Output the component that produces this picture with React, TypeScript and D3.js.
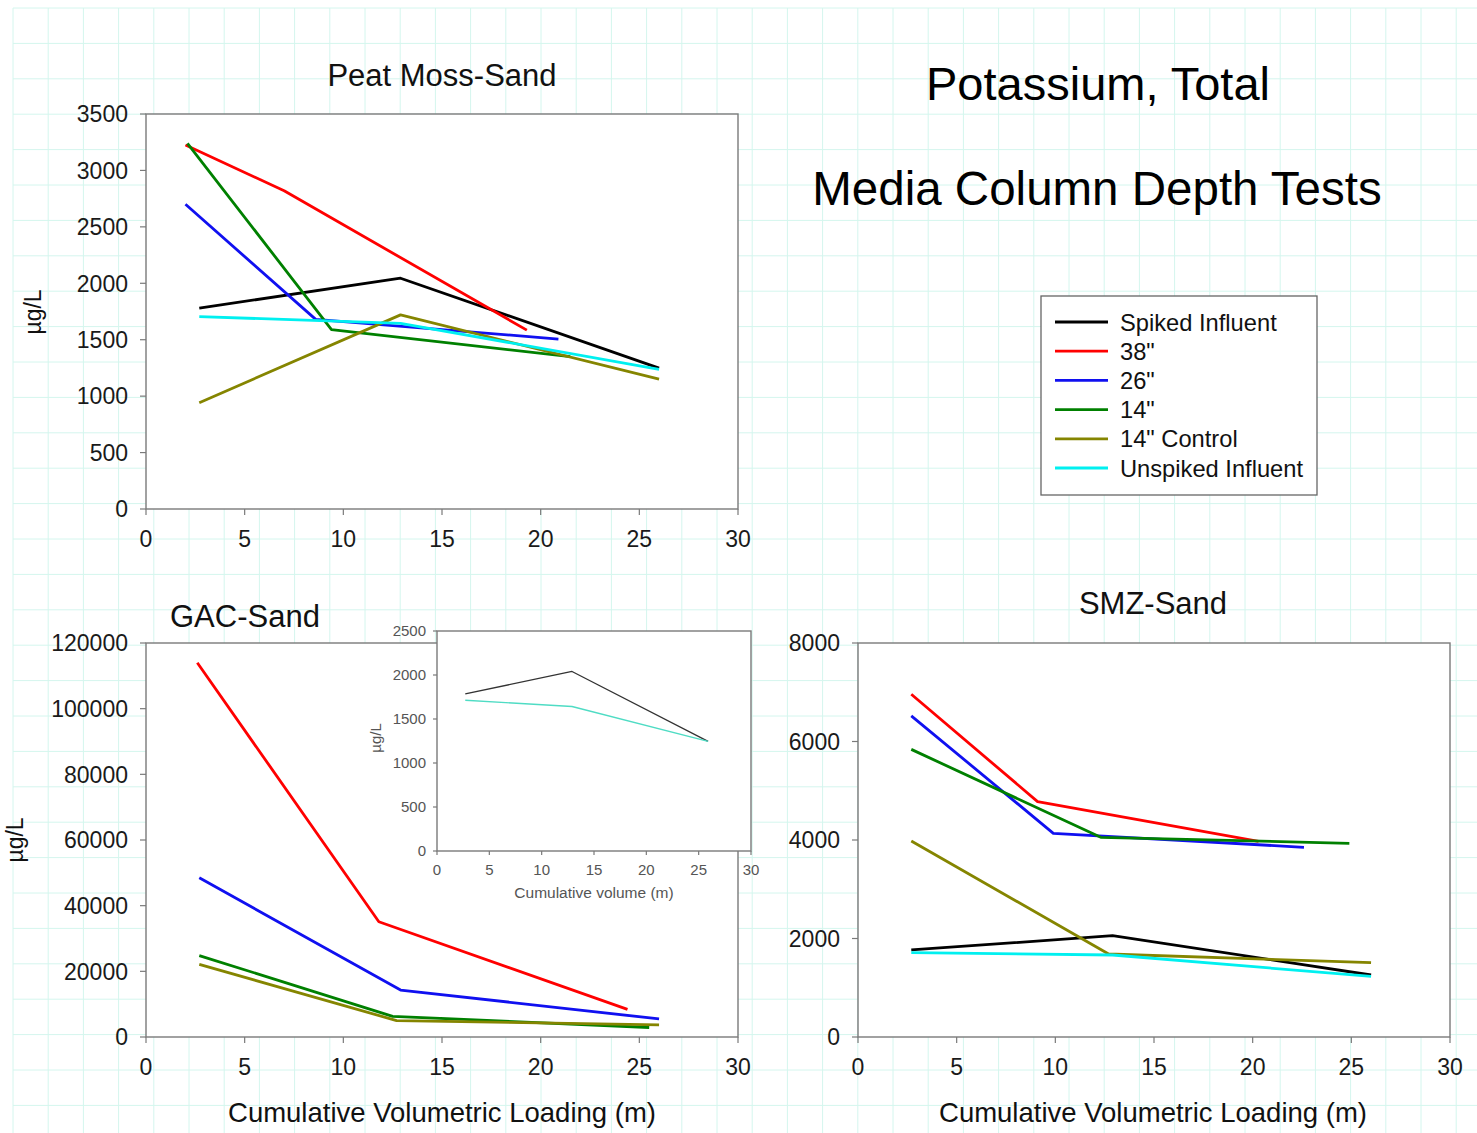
import React from 'react';
import * as d3 from 'd3';

type Pt = [number, number];

const W = 1477;
const H = 1133;
const FONT = '"Liberation Sans", Arial, sans-serif';

// legend / series
const seriesNames = ['Spiked Influent', '38"', '26"', '14"', '14" Control', 'Unspiked Influent'];
const seriesColors = ['#000000', '#ff0000', '#1010f0', '#008000', '#858500', '#00f0f0'];

// shared ticks
const xTicks = [0, 5, 10, 15, 20, 25, 30];
const peatYTicks = [0, 500, 1000, 1500, 2000, 2500, 3000, 3500];
const gacYTicks = [0, 20000, 40000, 60000, 80000, 100000, 120000];
const smzYTicks = [0, 2000, 4000, 6000, 8000];
const insetYTicks = [0, 500, 1000, 1500, 2000, 2500];

// Peat Moss-Sand (x = cumulative loading, y = µg/L)
const peatSpiked: Pt[] = [[2.7, 1780], [12.9, 2045], [26, 1248]];
const peat38: Pt[] = [[2.0, 3225], [7.0, 2820], [19.3, 1585]];
const peat26: Pt[] = [[2.0, 2700], [8.6, 1680], [20.9, 1506]];
const peat14: Pt[] = [[2.1, 3240], [9.4, 1590], [21.5, 1350]];
const peat14c: Pt[] = [[2.7, 942], [12.9, 1720], [26, 1150]];
const peatUnspiked: Pt[] = [[2.7, 1705], [12.9, 1645], [26, 1238]];

// GAC-Sand
const gac38: Pt[] = [[2.6, 114000], [11.8, 35100], [24.4, 8400]];
const gac26: Pt[] = [[2.7, 48500], [12.9, 14300], [26, 5500]];
const gac14: Pt[] = [[2.7, 24800], [12.5, 6300], [25.5, 2900]];
const gac14c: Pt[] = [[2.7, 22100], [12.7, 5000], [26, 3700]];

// GAC inset (influents only)
const insetSpiked: Pt[] = [[2.7, 1785], [12.9, 2040], [25.9, 1246]];
const insetUnspiked: Pt[] = [[2.7, 1713], [12.9, 1642], [25.9, 1246]];

// SMZ-Sand
const smzSpiked: Pt[] = [[2.7, 1767], [12.9, 2057], [26, 1259]];
const smz38: Pt[] = [[2.7, 6960], [9.1, 4780], [20.3, 3970]];
const smz26: Pt[] = [[2.7, 6520], [9.9, 4136], [22.6, 3852]];
const smz14: Pt[] = [[2.7, 5840], [12.3, 4055], [24.9, 3933]];
const smz14c: Pt[] = [[2.7, 3980], [12.7, 1685], [26, 1510]];
const smzUnspiked: Pt[] = [[2.7, 1712], [12.9, 1665], [26, 1230]];

interface Box { x: number; y: number; w: number; h: number }
interface Series { data: Pt[]; color: string }

const AXIS = '#7a7a7a';

function Panel({ box, yMax, yTicks, series, fontSize = 23, tick = 6, lw = 2.8, labelColor = '#1a1a1a', xLabelGap = 38, yLabelGap = 18 }: {
  box: Box; yMax: number; yTicks: number[]; series: Series[]; fontSize?: number; tick?: number; lw?: number;
  labelColor?: string; xLabelGap?: number; yLabelGap?: number;
}) {
  const x = d3.scaleLinear().domain([0, 30]).range([box.x, box.x + box.w]);
  const y = d3.scaleLinear().domain([0, yMax]).range([box.y + box.h, box.y]);
  const line = d3.line<Pt>().x((d) => x(d[0])).y((d) => y(d[1]));
  const bottom = box.y + box.h;
  return (
    <g>
      <rect x={box.x} y={box.y} width={box.w} height={box.h} fill="#fff" stroke={AXIS} strokeWidth={1.4} />
      {yTicks.map((t) => (
        <g key={'y' + t}>
          <line x1={box.x - tick} x2={box.x} y1={y(t)} y2={y(t)} stroke={AXIS} strokeWidth={1.2} />
          <text x={box.x - yLabelGap} y={y(t)} dy="0.36em" textAnchor="end" fontSize={fontSize} fill={labelColor}>{t}</text>
        </g>
      ))}
      {xTicks.map((t) => (
        <g key={'x' + t}>
          <line x1={x(t)} x2={x(t)} y1={bottom} y2={bottom + tick} stroke={AXIS} strokeWidth={1.2} />
          <text x={x(t)} y={bottom + xLabelGap} textAnchor="middle" fontSize={fontSize} fill={labelColor}>{t}</text>
        </g>
      ))}
      {series.map((s, i) => (
        <path key={i} d={line(s.data) ?? ''} fill="none" stroke={s.color} strokeWidth={lw} strokeLinejoin="round" />
      ))}
    </g>
  );
}

export default function App() {
  const gridXs = d3.range(13, W, 35.2);
  const gridYs = d3.range(8, H, 35.4);

  const peatSeries: Series[] = [peatSpiked, peat38, peat26, peat14, peat14c, peatUnspiked].map((d, i) => ({ data: d, color: seriesColors[i] }));
  const gacSeries: Series[] = [gac38, gac26, gac14, gac14c].map((d, i) => ({ data: d, color: seriesColors[i + 1] }));
  const smzSeries: Series[] = [smzSpiked, smz38, smz26, smz14, smz14c, smzUnspiked].map((d, i) => ({ data: d, color: seriesColors[i] }));
  const insetSeries: Series[] = [
    { data: insetSpiked, color: '#333333' },
    { data: insetUnspiked, color: '#4fdcc4' },
  ];

  const legendX = 1041;
  const legendY = 296;

  return (
    <svg width={W} height={H} style={{ position: 'absolute', left: 0, top: 0, background: '#fff' }} fontFamily={FONT}>
      {/* faint background grid */}
      <g stroke="#d4f6ee" strokeWidth={1}>
        {gridXs.map((gx) => <line key={'gx' + gx} x1={gx} x2={gx} y1={8} y2={H} />)}
        {gridYs.map((gy) => <line key={'gy' + gy} x1={13} x2={W} y1={gy} y2={gy} />)}
      </g>

      {/* titles */}
      <text x={1098} y={100} textAnchor="middle" fontSize={47} fill="#000">Potassium, Total</text>
      <text x={1097} y={205} textAnchor="middle" fontSize={47.5} fill="#000">Media Column Depth Tests</text>

      {/* Peat Moss-Sand */}
      <text x={442} y={86} textAnchor="middle" fontSize={31} fill="#111">Peat Moss-Sand</text>
      <Panel box={{ x: 146, y: 114, w: 592, h: 395 }} yMax={3500} yTicks={peatYTicks} series={peatSeries} />
      <text transform="translate(41,312) rotate(-90)" textAnchor="middle" fontSize={23} fill="#111">µg/L</text>

      {/* GAC-Sand */}
      <text x={170} y={627} fontSize={31} fill="#111">GAC-Sand</text>
      <Panel box={{ x: 146, y: 643, w: 592, h: 394 }} yMax={120000} yTicks={gacYTicks} series={gacSeries} />
      <text transform="translate(23,840) rotate(-90)" textAnchor="middle" fontSize={23} fill="#111">µg/L</text>
      <text x={442} y={1122} textAnchor="middle" fontSize={27.5} fill="#111">Cumulative Volumetric Loading (m)</text>

      {/* inset */}
      <Panel box={{ x: 437, y: 631, w: 314, h: 220 }} yMax={2500} yTicks={insetYTicks} series={insetSeries}
        fontSize={15} tick={4} lw={1.3} labelColor="#555" xLabelGap={24} yLabelGap={11} />
      <text transform="translate(381,738) rotate(-90)" textAnchor="middle" fontSize={15} fill="#555">µg/L</text>
      <text x={594} y={898} textAnchor="middle" fontSize={15.5} fill="#555">Cumulative volume (m)</text>

      {/* SMZ-Sand */}
      <text x={1153} y={614} textAnchor="middle" fontSize={31} fill="#111">SMZ-Sand</text>
      <Panel box={{ x: 858, y: 643, w: 592, h: 394 }} yMax={8000} yTicks={smzYTicks} series={smzSeries} />
      <text x={1153} y={1122} textAnchor="middle" fontSize={27.5} fill="#111">Cumulative Volumetric Loading (m)</text>

      {/* legend */}
      <rect x={legendX} y={legendY} width={276} height={199} fill="#fff" stroke="#666" strokeWidth={1.3} />
      {seriesNames.map((name, i) => {
        const cy = legendY + 26 + i * 29.2;
        return (
          <g key={name}>
            <line x1={legendX + 14} x2={legendX + 67} y1={cy} y2={cy} stroke={seriesColors[i]} strokeWidth={2.8} />
            <text x={legendX + 79} y={cy} dy="0.36em" fontSize={23.7} fill="#111">{name}</text>
          </g>
        );
      })}
    </svg>
  );
}
